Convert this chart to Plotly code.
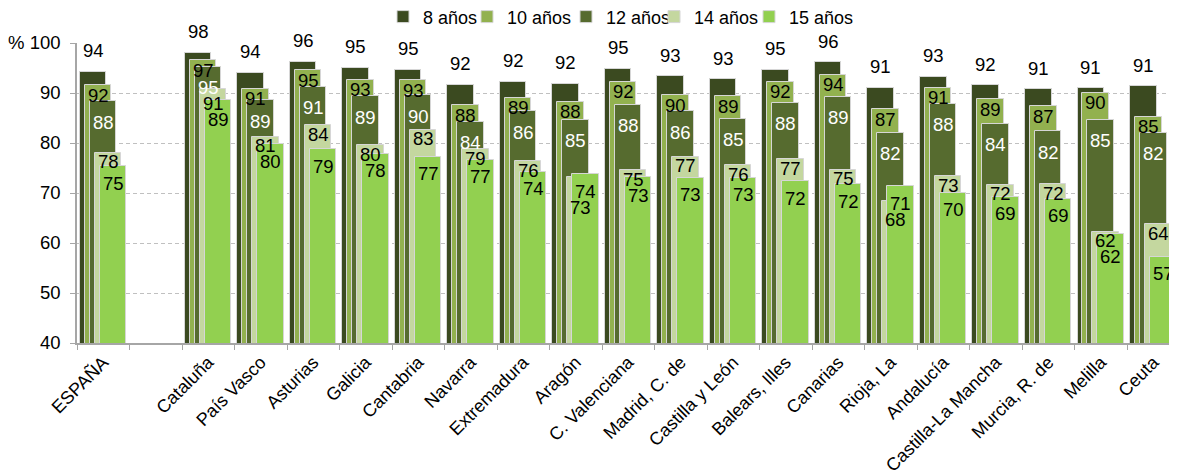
import plotly.graph_objects as go

categorias = ["ESPAÑA", "Cataluña", "País Vasco", "Asturias", "Galicia", "Cantabria",
              "Navarra", "Extremadura", "Aragón", "C. Valenciana", "Madrid, C. de",
              "Castilla y León", "Balears, Illes", "Canarias", "Rioja, La", "Andalucía",
              "Castilla-La Mancha", "Murcia, R. de", "Melilla", "Ceuta"]

series_nombres = ["8 años", "10 años", "12 años", "14 años", "15 años"]

v8 = [94.3, 98.1, 94.1, 96.3, 95.1, 94.7, 91.7, 92.3, 91.9, 94.9, 93.4, 92.8, 94.7, 96.2,
      91.1, 93.3, 91.6, 90.8, 91.0, 91.4]
v10 = [91.6, 96.6, 90.9, 94.6, 92.7, 92.6, 87.6, 89.1, 88.3, 92.3, 89.6, 89.4, 92.3, 93.7,
       86.8, 91.1, 88.8, 87.4, 90.1, 85.3]
v12 = [88.4, 95.3, 88.6, 91.3, 89.4, 89.6, 84.3, 86.4, 84.7, 87.7, 86.4, 84.9, 88.1, 89.3,
       82.1, 87.9, 83.9, 82.4, 84.7, 82.1]
v14 = [78.1, 90.9, 81.3, 83.6, 79.6, 82.7, 78.8, 76.4, 73.3, 74.6, 77.3, 75.6, 76.8, 74.7,
       68.4, 73.4, 71.7, 71.8, 62.3, 63.8]
v15 = [75.4, 88.7, 79.9, 78.8, 77.9, 77.3, 76.7, 74.3, 73.8, 73.3, 73.1, 73.1, 72.4, 71.8,
       71.4, 70.1, 69.3, 68.9, 61.8, 57.3]

valores = [v8, v10, v12, v14, v15]
colores = ["#3b4a20", "#92b14f", "#566b2f", "#c4d79f", "#92d050"]
color_texto = ["black", "black", "white", "black", "black"]

# layout constants (page body adds an 8px offset)
W, H = 1169, 467
M_L, M_R, M_T, M_B = 69, 0, 35, 132
Y_MIN, Y_MAX = 40, 100
plot_w = W - M_L - M_R
ppu = (H - M_T - M_B) / (Y_MAX - Y_MIN)  # pixels per unit

# label offsets in px below bar top (negative = above)
d_base = [-21, 10, 21, 9, 17]
sep = 16

# legend entry left edges (px within figure)
leg_px = [375, 459, 558, 646, 741]

# x positions: gap slot after ESPAÑA
posiciones = [0] + [i + 1 for i in range(1, len(categorias))]

ancho = 0.505
offsets = [-0.445 + i * 0.095 for i in range(5)]
FONT = "Liberation Sans, Arial, sans-serif"

fig = go.Figure()
leg_layouts = {}
for k in range(5):
    lname = "legend" if k == 0 else f"legend{k + 1}"
    fig.add_trace(go.Bar(
        x=posiciones, y=valores[k], name=series_nombres[k],
        width=ancho, offset=offsets[k], legend=lname,
        marker=dict(color=colores[k], line=dict(color="#d6d6d6", width=1)),
        hoverinfo="y",
    ))
    leg_layouts[lname] = dict(
        orientation="h", x=(leg_px[k] - M_L) / plot_w, xanchor="left",
        y=1.087, yanchor="middle", font=dict(size=18), itemwidth=30,
        bgcolor="rgba(0,0,0,0)",
    )

anots = []
for j, p in enumerate(posiciones):
    tops = {k: (Y_MAX - valores[k][j]) * ppu for k in range(5)}
    centers = {0: tops[0] + d_base[0]}
    orden = sorted(range(1, 5), key=lambda k: (-valores[k][j], k))
    prev = None
    for k in orden:
        c = tops[k] + d_base[k]
        if prev is not None and c < prev + sep:
            c = prev + sep
        centers[k] = c
        prev = c
    for k in range(5):
        v = valores[k][j]
        anots.append(dict(
            x=p + offsets[k] + ancho / 2, y=v, xref="x", yref="y",
            text=f"{v:.0f}", showarrow=False, yanchor="middle", xanchor="center",
            yshift=-(centers[k] - tops[k]),
            font=dict(family=FONT, size=18.5, color=color_texto[k]),
        ))

fig.update_layout(
    width=W, height=H,
    margin=dict(l=M_L, r=M_R, t=M_T, b=M_B, autoexpand=False),
    barmode="overlay",
    plot_bgcolor="white", paper_bgcolor="white",
    font=dict(family=FONT, size=18, color="black"),
    annotations=anots,
    showlegend=True,
    bargap=0,
    **leg_layouts,
)

fig.update_xaxes(
    range=[-0.5, 20.45],
    tickmode="array", tickvals=posiciones, ticktext=categorias,
    tickangle=-45, ticks="", ticklen=0,
    showline=True, linecolor="#a6a6a6", linewidth=1.5,
    showgrid=False, zeroline=False,
    tickfont=dict(size=18),
    minor=dict(ticks="outside", ticklen=5, tick0=0.5, dtick=1, tickcolor="#a6a6a6",
               showgrid=False),
)

fig.update_yaxes(
    range=[Y_MIN, Y_MAX],
    tickmode="array", tickvals=[40, 50, 60, 70, 80, 90, 100],
    ticktext=["40", "50", "60", "70", "80", "90", "% 100"],
    ticks="outside", ticklen=5, tickcolor="#a6a6a6",
    ticklabelstandoff=6,
    showline=True, linecolor="#a6a6a6", linewidth=1.5,
    showgrid=True, gridcolor="#c0c0c0", griddash="4px,3px", gridwidth=1,
    zeroline=False, tickfont=dict(size=18.5),
)

fig.write_html("out.html")
